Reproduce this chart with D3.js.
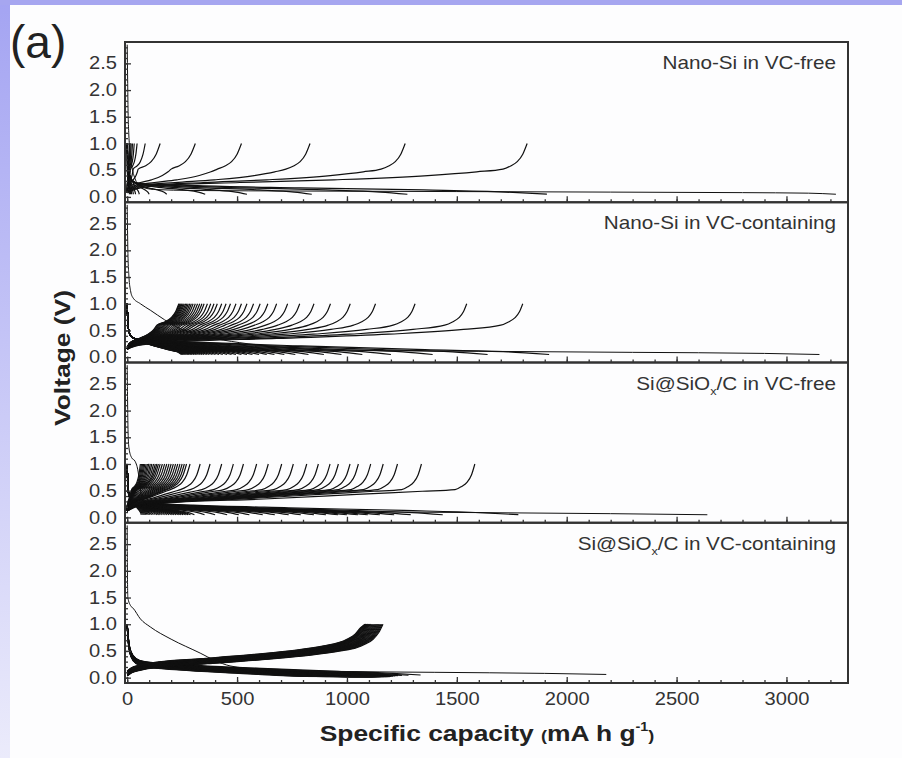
<!DOCTYPE html>
<html>
<head>
<meta charset="utf-8">
<script src="https://cdn.jsdelivr.net/npm/d3@7"></script>
<style>
  body { margin: 0; background: #fff; }
  svg { display: block; font-family: 'Liberation Sans', Arial, sans-serif; }
</style>
</head>
<body>
<script>
// axis ticks
var xTicks = [0, 500, 1000, 1500, 2000, 2500, 3000];
var yTicks = [0, 0.5, 1.0, 1.5, 2.0, 2.5];
var panelTitles = ['Nano-Si in VC-free', 'Nano-Si in VC-containing',
  'Si@SiOx/C in VC-free', 'Si@SiOx/C in VC-containing'];

// ---- Nano-Si in VC-free ----
// first discharge [capacity, voltage]
var nanoFreeFirst = [[0, 2.85], [2, 2.2], [4, 1.6], [7, 1.2], [12, 0.9], [20, 0.6], [35, 0.35],
  [60, 0.2], [120, 0.14], [300, 0.12], [800, 0.11], [1500, 0.1], [2200, 0.09], [2800, 0.08],
  [3100, 0.07], [3225, 0.05]];
// capacity at end of each later charge / discharge
var nanoFreeCharge = [1820, 1265, 832, 520, 310, 150, 82, 45, 32, 24, 18, 13, 9];
var nanoFreeDischarge = [1910, 1275, 840, 545, 355, 180, 100, 55, 38, 28, 20, 15, 10];
// curve shapes: body [fraction, V], tail [mAh/g before the 1.0 V cut-off, V]
var nanoFreeChargeBody = [[0, 0.08], [0.03, 0.16], [0.1, 0.22], [0.3, 0.27], [0.55, 0.32], [0.8, 0.4], [0.93, 0.47], [1, 0.52]];
var nanoFreeChargeTail = [[110, 0.52], [75, 0.58], [45, 0.66], [20, 0.8], [0, 1.0]];
var nanoFreeDischargeHead = [[0, 1.0], [3, 0.65], [8, 0.45], [20, 0.32], [40, 0.26]];
var nanoFreeDischargeBody = [[0, 0.26], [0.15, 0.21], [0.4, 0.17], [0.7, 0.13], [0.9, 0.09], [1, 0.05]];

// ---- Nano-Si in VC-containing ----
var nanoVcFirst = [[0, 2.85], [3, 2.0], [8, 1.5], [15, 1.25], [25, 1.12], [60, 1.0], [105, 0.88],
  [170, 0.7], [227, 0.56], [300, 0.45], [400, 0.35], [550, 0.25], [750, 0.17], [1000, 0.13],
  [1600, 0.11], [2300, 0.09], [2900, 0.07], [3150, 0.05]];
var nanoVcCharge = [1800, 1545, 1310, 1130, 1015, 925, 850, 785, 730, 680, 640, 605, 575, 545,
  520, 495, 470, 450, 430, 410, 395, 380, 365, 350, 340, 330, 320, 310, 300, 292, 285, 278,
  272, 266, 260, 255, 250, 246, 242, 238, 235];
var nanoVcDischarge = [1920, 1640, 1390, 1200, 1070, 975, 895, 825, 765, 715, 670, 635, 600,
  570, 545, 520, 495, 475, 455, 435, 418, 402, 388, 374, 362, 350, 340, 330, 320, 312, 304,
  296, 289, 282, 276, 270, 265, 260, 255, 251, 247];
var nanoVcChargeBody = [[0, 0.15], [0.03, 0.22], [0.12, 0.28], [0.4, 0.35], [0.7, 0.43], [0.9, 0.52], [1, 0.6]];
var nanoVcChargeTail = [[100, 0.6], [65, 0.66], [35, 0.74], [15, 0.85], [0, 1.0]];
var nanoVcDischargeHead = [[0, 1.0], [3, 0.65], [8, 0.48], [20, 0.38], [40, 0.34]];
var nanoVcDischargeBody = [[0, 0.34], [0.15, 0.28], [0.4, 0.21], [0.7, 0.14], [0.9, 0.1], [1, 0.05]];

// ---- Si@SiOx/C in VC-free ----
var siFreeFirst = [[0, 2.85], [2, 2.1], [4, 1.6], [8, 1.3], [20, 1.12], [36, 1.05], [50, 0.85],
  [58, 0.6], [65, 0.4], [90, 0.25], [160, 0.17], [400, 0.13], [900, 0.11], [1600, 0.09],
  [2200, 0.07], [2640, 0.05]];
var siFreeCharge = [1582, 1339, 1230, 1165, 1108, 1052, 1014, 961, 923, 870, 817, 756, 703,
  642, 589, 529, 483, 430, 377, 332, 286, 270, 260, 250, 240, 230, 220, 210, 200, 190, 180,
  170, 160, 150, 142, 135, 128, 120, 112, 105, 98, 92, 86, 80, 75, 70, 65, 60];
var siFreeDischarge = [1780, 1436, 1290, 1215, 1150, 1095, 1050, 1000, 960, 905, 850, 790,
  735, 672, 617, 556, 508, 455, 400, 352, 306, 288, 277, 266, 255, 244, 234, 223, 212, 202,
  191, 180, 170, 160, 151, 143, 136, 128, 119, 111, 104, 97, 91, 85, 79, 74, 69, 64];
var siFreeChargeBody = [[0, 0.12], [0.04, 0.22], [0.15, 0.28], [0.4, 0.34], [0.7, 0.43], [0.9, 0.49], [1, 0.52]];
var siFreeChargeTail = [[90, 0.52], [60, 0.58], [35, 0.66], [15, 0.8], [0, 1.0]];
var siFreeDischargeHead = [[0, 1.0], [3, 0.6], [8, 0.42], [20, 0.32], [40, 0.28]];
var siFreeDischargeBody = [[0, 0.28], [0.15, 0.23], [0.4, 0.18], [0.7, 0.13], [0.9, 0.09], [1, 0.05]];

// ---- Si@SiOx/C in VC-containing ----
var siVcFirst = [[0, 2.85], [1, 2.0], [3, 1.5], [15, 1.35], [27, 1.3], [60, 1.1], [105, 0.95],
  [200, 0.72], [332, 0.46], [400, 0.32], [468, 0.22], [600, 0.16], [900, 0.12], [1400, 0.1],
  [1900, 0.08], [2180, 0.06]];
var siVcCharge = [1164, 1160, 1156, 1152, 1148, 1144, 1140, 1136, 1132, 1128, 1124, 1120,
  1116, 1112, 1108, 1104, 1100, 1097, 1094, 1091, 1088, 1086, 1084, 1082];
var siVcDischarge = [1335, 1280, 1250, 1232, 1220, 1210, 1202, 1195, 1188, 1182, 1176, 1170,
  1165, 1160, 1155, 1150, 1145, 1140, 1135, 1130, 1125, 1120, 1115, 1110];
// extra polarisation of each cycle (V)
var siVcShift = [0, 0.005, 0.01, 0.012, 0.018, 0.02, 0.026, 0.03, 0.034, 0.04, 0.042, 0.048,
  0.05, 0.055, 0.06, 0.062, 0.068, 0.07, 0.075, 0.078, 0.082, 0.086, 0.09, 0.095];
var siVcChargeBody = [[0, 0.03], [0.02, 0.09], [0.06, 0.14], [0.15, 0.2], [0.35, 0.26], [0.6, 0.34], [0.8, 0.42], [0.93, 0.5], [1, 0.56]];
var siVcChargeTail = [[120, 0.56], [80, 0.63], [45, 0.72], [20, 0.84], [0, 1.0]];
var siVcDischargeHead = [[0, 1.0], [3, 0.85], [8, 0.65], [18, 0.48], [40, 0.36], [80, 0.3]];
var siVcDischargeBody = [[0, 0.3], [0.15, 0.24], [0.4, 0.18], [0.7, 0.12], [0.9, 0.08], [1, 0.05]];

var panels = [
  {title: panelTitles[0], first: nanoFreeFirst, charge: nanoFreeCharge, discharge: nanoFreeDischarge,
   cBody: nanoFreeChargeBody, cTail: nanoFreeChargeTail, dHead: nanoFreeDischargeHead, dBody: nanoFreeDischargeBody},
  {title: panelTitles[1], first: nanoVcFirst, charge: nanoVcCharge, discharge: nanoVcDischarge,
   cBody: nanoVcChargeBody, cTail: nanoVcChargeTail, dHead: nanoVcDischargeHead, dBody: nanoVcDischargeBody},
  {title: panelTitles[2], first: siFreeFirst, charge: siFreeCharge, discharge: siFreeDischarge,
   cBody: siFreeChargeBody, cTail: siFreeChargeTail, dHead: siFreeDischargeHead, dBody: siFreeDischargeBody},
  {title: panelTitles[3], first: siVcFirst, charge: siVcCharge, discharge: siVcDischarge, shift: siVcShift,
   cBody: siVcChargeBody, cTail: siVcChargeTail, dHead: siVcDischargeHead, dBody: siVcDischargeBody}
];

var PANEL_TOP = 42;
var PANEL_H = 160.25;
var LEFT = 125, RIGHT = 848;
var TEXT = '#333';

var svg = d3.select('body').append('svg')
  .attr('width', 902)
  .attr('height', 758);

// slide background
var defs = svg.append('defs');
var grad = defs.append('linearGradient').attr('id', 'edge')
  .attr('x1', 0).attr('y1', 0).attr('x2', 0).attr('y2', 1);
grad.append('stop').attr('offset', '0%').attr('stop-color', '#a4a4f2');
grad.append('stop').attr('offset', '100%').attr('stop-color', '#ebebfb');
svg.append('rect').attr('width', 902).attr('height', 758).attr('fill', '#fdfdfe');
svg.append('rect').attr('width', 10).attr('height', 758).attr('fill', 'url(#edge)');
svg.append('rect').attr('width', 902).attr('height', 5).attr('fill', '#a6a6f0');

var x = d3.scaleLinear().domain([-10, 3280]).range([LEFT, RIGHT]);

// place the shape templates at a cycle's capacity
function chargePoints(p, c, s) {
  var tw = p.cTail[0][0];
  var k = Math.min(1, c / (tw * 1.5));
  var bodyEnd = c - tw * k;
  var pts = p.cBody.map(function (d) { return [d[0] * bodyEnd, d[1] + s]; });
  p.cTail.slice(1).forEach(function (d, i, a) {
    pts.push([c - d[0] * k, i === a.length - 1 ? d[1] : d[1] + s]);
  });
  return pts;
}

function dischargePoints(p, c, s) {
  var hw = p.dHead[p.dHead.length - 1][0];
  var k = Math.min(1, c / (hw * 2));
  var pts = p.dHead.map(function (d, i) { return [d[0] * k, i === 0 ? d[1] : Math.max(0.02, d[1] - s)]; });
  var start = hw * k;
  p.dBody.slice(1).forEach(function (d) {
    pts.push([start + d[0] * (c - start), Math.max(0.02, d[1] - s)]);
  });
  return pts;
}

panels.forEach(function (p, i) {
  var top = PANEL_TOP + i * PANEL_H;
  var bottom = top + PANEL_H;
  var y = d3.scaleLinear().domain([-0.1, 2.9]).range([bottom, top]);
  var g = svg.append('g');

  defs.append('clipPath').attr('id', 'clip' + i)
    .append('rect')
      .attr('x', LEFT).attr('y', top)
      .attr('width', RIGHT - LEFT).attr('height', PANEL_H);

  var line = d3.line()
    .x(function (d) { return x(d[0]); })
    .y(function (d) { return y(d[1]); })
    .curve(d3.curveMonotoneX);

  var curves = g.append('g').attr('clip-path', 'url(#clip' + i + ')')
    .style('fill', 'none')
    .style('stroke', '#111');

  curves.selectAll('path.dis')
    .data(p.discharge)
    .enter().append('path')
      .attr('class', 'dis')
      .attr('d', function (c, j) { return line(dischargePoints(p, c, p.shift ? p.shift[j] : 0)); })
      .style('stroke-width', 1.2);

  curves.selectAll('path.chg')
    .data(p.charge)
    .enter().append('path')
      .attr('class', 'chg')
      .attr('d', function (c, j) { return line(chargePoints(p, c, p.shift ? p.shift[j] : 0)); })
      .style('stroke-width', 1.2);

  curves.append('path')
    .attr('d', line(p.first))
    .style('stroke-width', 1);

  // inward ticks on the bottom edge
  var xAxis = d3.axisBottom(x).tickValues(xTicks).tickSize(-6).tickPadding(10)
    .tickFormat(i === panels.length - 1 ? d3.format('d') : '');
  var xa = g.append('g').attr('transform', 'translate(0,' + bottom + ')').call(xAxis);
  g.append('g').attr('transform', 'translate(0,' + bottom + ')')
    .call(d3.axisBottom(x).tickValues(d3.range(0, 3300, 100)).tickSize(-3).tickFormat(''));

  var yAxis = d3.axisLeft(y).tickValues(yTicks).tickSize(-6).tickPadding(7)
    .tickFormat(d3.format('.1f'));
  var ya = g.append('g').attr('transform', 'translate(' + LEFT + ',0)').call(yAxis);
  g.append('g').attr('transform', 'translate(' + LEFT + ',0)')
    .call(d3.axisLeft(y).tickValues(d3.range(0, 2.85, 0.1)).tickSize(-3).tickFormat(''));

  g.selectAll('.domain').remove();
  g.selectAll('.tick line').style('stroke', TEXT).style('stroke-width', 1.3);
  g.selectAll('.tick text')
    .attr('transform', 'scale(1.15,1)')
    .style('font-size', '17.5px')
    .style('font-family', "'Liberation Sans', Arial, sans-serif")
    .style('fill', TEXT);

  // frame
  g.append('rect')
    .attr('x', LEFT).attr('y', top)
    .attr('width', RIGHT - LEFT).attr('height', PANEL_H)
    .style('fill', 'none')
    .style('stroke', TEXT)
    .style('stroke-width', 2);

  // panel title, x as subscript
  var t = g.append('text')
    .attr('transform', 'translate(836,' + (top + 27) + ') scale(1.15,1)')
    .attr('text-anchor', 'end')
    .style('font-size', '18px')
    .style('fill', TEXT);
  var parts = p.title.split('SiOx');
  if (parts.length > 1) {
    t.append('tspan').text(parts[0] + 'SiO');
    t.append('tspan').attr('dy', 5).style('font-size', '11px').text('x');
    t.append('tspan').attr('dy', -5).text(parts[1]);
  } else {
    t.text(p.title);
  }
});

// axis titles
svg.append('text')
  .attr('transform', 'translate(70,358) rotate(-90) scale(1.2,1)')
  .attr('text-anchor', 'middle')
  .style('font-size', '22px')
  .style('font-weight', 'bold')
  .style('fill', '#222')
  .text('Voltage (V)');

var xt = svg.append('text')
  .attr('transform', 'translate(487,741) scale(1.2,1)')
  .attr('text-anchor', 'middle')
  .style('font-size', '22px')
  .style('font-weight', 'bold')
  .style('fill', '#222');
xt.append('tspan').text('Specific capacity ');
xt.append('tspan').style('font-size', '15px').text('(');
xt.append('tspan').text('mA h g');
xt.append('tspan').attr('dy', -10).style('font-size', '12px').text('-1');
xt.append('tspan').attr('dy', 10).style('font-size', '15px').text(')');

// panel letter
svg.append('text')
  .attr('x', 10).attr('y', 58)
  .style('font-size', '46px')
  .style('fill', '#222')
  .text('(a)');
</script>
</body>
</html>
